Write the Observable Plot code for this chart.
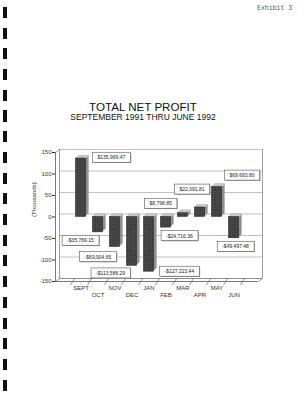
<!DOCTYPE html>
<html><head><meta charset="utf-8">
<script src="https://cdn.jsdelivr.net/npm/d3@7"></script>
<script src="https://cdn.jsdelivr.net/npm/@observablehq/plot@0.6"></script>
<style>
html,body{margin:0;padding:0;background:#fff;}
#page{position:relative;width:306px;height:400px;overflow:hidden;background:#fff;font-family:Arial,"Liberation Sans",sans-serif;}
#holes{position:absolute;left:3px;top:7px;width:4px;height:384px;background:repeating-linear-gradient(to bottom,#111 0px,#111 11px,transparent 11px,transparent 20.7px);}
#exhibit{position:absolute;left:257px;top:5px;font-family:"Liberation Mono","DejaVu Sans Mono",monospace;font-size:6.5px;line-height:7px;color:#555;}
#title{position:absolute;left:0;width:286px;top:100.6px;text-align:center;font-size:11.6px;line-height:11px;color:#111;white-space:nowrap;}
#subtitle{position:absolute;left:0;width:286px;top:113.4px;text-align:center;font-size:8.5px;line-height:8.5px;color:#111;white-space:nowrap;}
#chart{position:absolute;left:0;top:140px;}
</style></head>
<body>
<svg width="0" height="0" style="position:absolute">
<defs>
<pattern id="hatch" width="2.5" height="2.5" patternUnits="userSpaceOnUse">
<rect width="2.5" height="2.5" fill="#5a5a5a"/>
<path d="M0,2.5L2.5,0M0,0L2.5,2.5" stroke="#262626" stroke-width="0.6"/>
</pattern>
<pattern id="hatchSide" width="2.5" height="2.5" patternUnits="userSpaceOnUse">
<rect width="2.5" height="2.5" fill="#a0a0a0"/>
<path d="M0,2.5L2.5,0M0,0L2.5,2.5" stroke="#707070" stroke-width="0.5"/>
</pattern>
</defs>
</svg>
<div id="page">
  <div id="holes"></div>
  <div id="exhibit">Exhibit 3</div>
  <div id="title">TOTAL NET PROFIT</div>
  <div id="subtitle">SEPTEMBER 1991 THRU JUNE 1992</div>
  <div id="chart"></div>
</div>
<script>
// ---- data (values in thousands of dollars) ----
const months = ["SEPT","OCT","NOV","DEC","JAN","FEB","MAR","APR","MAY","JUN"];
const profit = [135.96947, -35.76915, -69.90465, -113.58629, -127.22344, -24.71636, 8.79885, 22.09181, 69.6938, -49.49748];
const valueLabels = ["$135,969.47","-$35,769.15","-$69,904.65","-$113,586.29","-$127,223.44","-$24,716.36","$8,798.85","$22,091.81","$69,693.80","-$49,497.48"];
const yTicks = [-150,-100,-50,0,50,100,150];
// label anchor points (in data units: month index, thousands)
const labelX = [1.79,-0.03,1.0,1.74,5.79,5.79,4.68,6.53,9.47,9.09];
const labelY = [138,-55,-93,-131,-127,-44,31,64,96.5,-69];

const rows = months.map((m,i)=>({i, month:m, value:profit[i], label:valueLabels[i], lx:labelX[i], ly:labelY[i]}));
const X0 = -1.5, X1 = 10.44, Y0 = -150, Y1 = 150;
const DX = 0.235, DY = 7;   // depth of the 3D box in data units
const HALF = 0.3;
const bounds = d3.range(-0.5, 10, 1);

const sideMarks = [1,2,3].map(k => Plot.rect(rows, {x1:d=>d.i-HALF, x2:d=>d.i+HALF, y1:0, y2:"value", dx:k, dy:-k, fill:"url(#hatchSide)"}));
const topMarks = [0.5,1,1.5,2,2.5,3].map(k => Plot.ruleY(rows, {x1:d=>d.i-HALF+0.03, x2:d=>d.i+HALF, y:d=>Math.max(0,d.value), dx:k, dy:-k, stroke:"#c8c8c8", strokeWidth:1}));

const svg = Plot.plot({
  width:306, height:170,
  marginTop:12, marginBottom:29, marginLeft:55, marginRight:48,
  style:{fontFamily:"Arial, 'Liberation Sans', sans-serif", fontSize:"6px", color:"#333", background:"transparent"},
  x:{type:"linear", domain:[X0,X1], axis:null},
  y:{domain:[Y0,Y1], ticks:yTicks, tickSize:3, tickPadding:1, tickFormat:d=>String(d), label:null},
  marks:[
    Plot.ruleY(yTicks, {dx:4, dy:-3, stroke:"#999", strokeWidth:0.6}),
    Plot.ruleX([X0, X1], {y1:Y0, y2:Y1, dx:4, dy:-3, stroke:"#777", strokeWidth:0.7}),
    Plot.ruleY([Y0], {dx:4, dy:-3, stroke:"#777", strokeWidth:0.7}),
    Plot.ruleX([X0], {y1:Y0, y2:Y1, stroke:"#555", strokeWidth:0.8}),
    Plot.ruleY([Y0], {stroke:"#555", strokeWidth:0.8}),
    Plot.link([{x:X0,y:Y1},{x:X0,y:Y0},{x:X1,y:Y0}], {x1:"x", y1:"y", x2:d=>d.x+DX, y2:d=>d.y+DY, stroke:"#666", strokeWidth:0.7}),
    Plot.link(bounds, {x1:d=>d-0.12, y1:Y0-8, x2:d=>d+0.12, y2:Y0+DY, stroke:"#666", strokeWidth:0.7}),
    ...sideMarks,
    ...topMarks,
    Plot.rect(rows, {x1:d=>d.i-HALF, x2:d=>d.i+HALF, y1:0, y2:"value", fill:"url(#hatch)", stroke:"#222", strokeWidth:0.5}),
    Plot.text(rows.filter(d=>d.i%2===0), {x:"i", y:Y0, text:"month", dy:7, fontSize:6, fill:"#333"}),
    Plot.text(rows.filter(d=>d.i%2===1), {x:"i", y:Y0, text:"month", dy:14, fontSize:6, fill:"#333"}),
    Plot.text(["(Thousands)"], {frameAnchor:"left", dx:-21, rotate:-90, fontSize:6.2, fill:"#333"}),
    Plot.text(rows, {x:"lx", y:"ly", text:"label", fontSize:5, fill:"#222", ariaDescription:"value-labels"})
  ]
});
document.getElementById("chart").append(svg);

// draw boxes behind the value labels
const g = svg.querySelector('g[aria-description="value-labels"]');
if (g) {
  const ns = "http://www.w3.org/2000/svg";
  g.querySelectorAll("text").forEach(t => {
    const b = t.getBBox();
    const tr = t.getAttribute("transform");
    const sh = document.createElementNS(ns, "rect");
    sh.setAttribute("x", b.x - 5 + 0.8); sh.setAttribute("y", b.y - 2 + 0.8);
    sh.setAttribute("width", b.width + 10); sh.setAttribute("height", b.height + 4);
    sh.setAttribute("fill", "#aaa");
    if (tr) sh.setAttribute("transform", tr);
    const r = document.createElementNS(ns, "rect");
    r.setAttribute("x", b.x - 5); r.setAttribute("y", b.y - 2);
    r.setAttribute("width", b.width + 10); r.setAttribute("height", b.height + 4);
    r.setAttribute("fill", "#fff"); r.setAttribute("stroke", "#555"); r.setAttribute("stroke-width", "0.6");
    if (tr) r.setAttribute("transform", tr);
    g.insertBefore(sh, t);
    g.insertBefore(r, t);
  });
}
</script>
</body></html>
